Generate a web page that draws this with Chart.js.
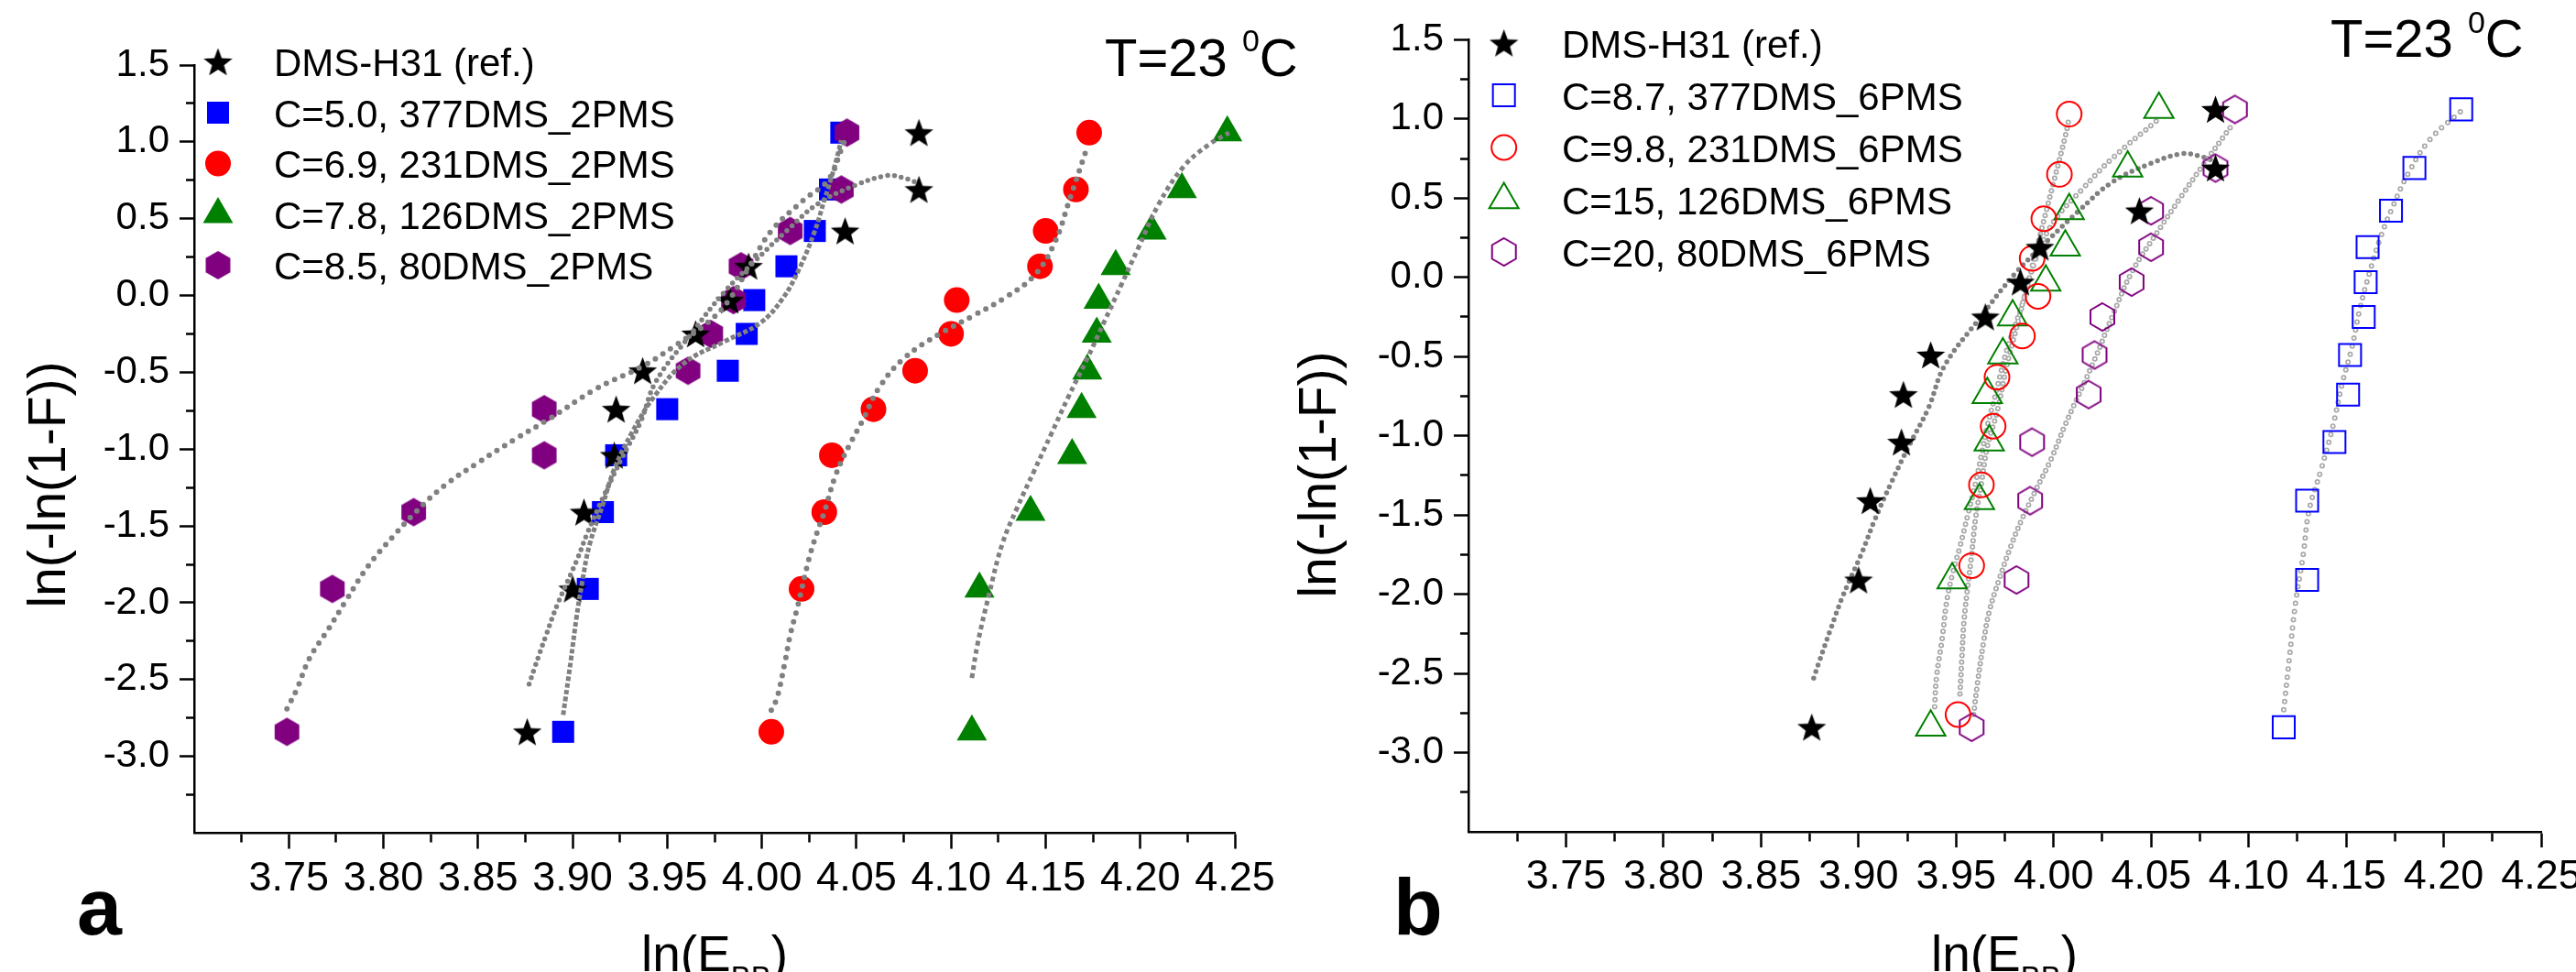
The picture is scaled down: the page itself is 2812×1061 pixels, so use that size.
<!DOCTYPE html>
<html lang="en">
<head>
<meta charset="UTF-8">
<title>Weibull plots, T=23 °C</title>
<script src="https://cdn.jsdelivr.net/npm/chart.js"></script>
<style>
  html, body { margin: 0; padding: 0; background: #fff; overflow: hidden; }
  body { width: 2812px; height: 1061px; position: relative; }
  canvas { position: absolute; top: 0; }
  #chartA { left: 0; }
  #chartB { left: 1400px; }
</style>
</head>
<body>
<canvas id="chartA" width="1420" height="1061"></canvas>
<canvas id="chartB" width="1460" height="1061"></canvas>
<script>
// ---- axis ticks ----
const xMajorTicks = [3.75, 3.80, 3.85, 3.90, 3.95, 4.00, 4.05, 4.10, 4.15, 4.20, 4.25];
const xTickLabels = ['3.75', '3.80', '3.85', '3.90', '3.95', '4.00', '4.05', '4.10', '4.15', '4.20', '4.25'];
const xMinorTicks = [3.725, 3.775, 3.825, 3.875, 3.925, 3.975, 4.025, 4.075, 4.125, 4.175, 4.225];
const yMajorTicks = [-3.0, -2.5, -2.0, -1.5, -1.0, -0.5, 0.0, 0.5, 1.0, 1.5];
const yTickLabels = ['-3.0', '-2.5', '-2.0', '-1.5', '-1.0', '-0.5', '0.0', '0.5', '1.0', '1.5'];
const yMinorTicks = [-3.25, -2.75, -2.25, -1.75, -1.25, -0.75, -0.25, 0.25, 0.75, 1.25];

// ---- series names ----
const labelsA = ['DMS-H31 (ref.)', 'C=5.0, 377DMS_2PMS', 'C=6.9, 231DMS_2PMS', 'C=7.8, 126DMS_2PMS', 'C=8.5, 80DMS_2PMS'];
const labelsB = ['DMS-H31 (ref.)', 'C=8.7, 377DMS_6PMS', 'C=9.8, 231DMS_6PMS', 'C=15, 126DMS_6PMS', 'C=20, 80DMS_6PMS'];

// ---- measured points: ln(-ln(1-F)) ----
const yRank12 = [-2.84, -1.91, -1.41, -1.04, -0.74, -0.49, -0.25, -0.03, 0.19, 0.42, 0.69, 1.06];
const yRank11 = [-2.76, -1.82, -1.31, -0.94, -0.63, -0.37, -0.12, 0.12, 0.37, 0.65, 1.03];

// ln(E_BB) of each sample
const refX = [3.876, 3.900, 3.906, 3.922, 3.923, 3.937, 3.965, 3.983, 3.993, 4.044, 4.083, 4.083];
const sq2X = [3.895, 3.908, 3.916, 3.923, 3.950, 3.982, 3.992, 3.996, 4.013, 4.028, 4.036, 4.042];
const ci2X = [4.005, 4.021, 4.033, 4.037, 4.059, 4.081, 4.100, 4.103, 4.147, 4.150, 4.166, 4.173];
const tr2X = [4.111, 4.115, 4.142, 4.164, 4.169, 4.172, 4.177, 4.178, 4.187, 4.206, 4.222, 4.246];
const hx2X = [3.749, 3.773, 3.816, 3.885, 3.885, 3.961, 3.973, 3.985, 3.989, 4.015, 4.042, 4.045];

const sq6X = [4.118, 4.130, 4.130, 4.144, 4.151, 4.152, 4.159, 4.160, 4.161, 4.173, 4.185, 4.209];
const ci6X = [3.951, 3.958, 3.963, 3.969, 3.971, 3.984, 3.992, 3.989, 3.995, 4.003, 4.008];
const tr6X = [3.937, 3.948, 3.962, 3.967, 3.966, 3.974, 3.979, 3.996, 4.006, 4.008, 4.038, 4.054];
const hx6X = [3.958, 3.981, 3.988, 3.989, 4.018, 4.021, 4.025, 4.040, 4.050, 4.050, 4.083, 4.093];

// ---- fitted curves ----
const refFitX = [3.877, 3.880, 3.886, 3.892, 3.902, 3.908, 3.917, 3.926, 3.936, 3.944, 3.962, 3.980, 3.996, 4.013, 4.030, 4.050, 4.066, 4.075, 4.083];
const refFitY = [-2.53, -2.42, -2.21, -2.01, -1.73, -1.54, -1.29, -1.06, -0.82, -0.56, -0.26, 0.02, 0.22, 0.42, 0.60, 0.72, 0.78, 0.765, 0.73];

const sq2FitX = [3.895, 3.899, 3.902, 3.905, 3.909, 3.916, 3.922, 3.931, 3.943, 3.959, 3.980, 3.999, 4.011, 4.020, 4.028, 4.033, 4.038, 4.042];
const sq2FitY = [-2.73, -2.38, -2.10, -1.87, -1.62, -1.36, -1.13, -0.90, -0.66, -0.44, -0.30, -0.18, -0.02, 0.18, 0.42, 0.62, 0.82, 1.01];

const ci2FitX = [4.005, 4.008, 4.012, 4.015, 4.019, 4.025, 4.029, 4.033, 4.039, 4.046, 4.053, 4.062, 4.075, 4.094, 4.112, 4.129, 4.144, 4.155, 4.162, 4.171];
const ci2FitY = [-2.70, -2.62, -2.40, -2.21, -2.02, -1.71, -1.55, -1.41, -1.17, -0.98, -0.82, -0.60, -0.41, -0.25, -0.13, -0.01, 0.13, 0.35, 0.60, 0.93];

const tr2FitX = [4.111, 4.114, 4.120, 4.127, 4.135, 4.144, 4.153, 4.162, 4.172, 4.181, 4.190, 4.199, 4.210, 4.223, 4.236, 4.247];
const tr2FitY = [-2.49, -2.27, -1.95, -1.62, -1.38, -1.14, -0.90, -0.66, -0.41, -0.17, 0.07, 0.31, 0.60, 0.84, 0.98, 1.06];

const hx2FitX = [3.749, 3.754, 3.761, 3.771, 3.780, 3.792, 3.805, 3.817, 3.832, 3.851, 3.869, 3.888, 3.912, 3.937, 3.955, 3.971, 3.982, 3.993, 4.005, 4.022, 4.035, 4.042, 4.045];
const hx2FitY = [-2.69, -2.57, -2.36, -2.17, -1.99, -1.76, -1.57, -1.41, -1.24, -1.08, -0.94, -0.80, -0.61, -0.46, -0.32, -0.18, -0.04, 0.18, 0.42, 0.62, 0.75, 0.95, 1.05];

const sq6FitX = [4.118, 4.121, 4.124, 4.128, 4.131, 4.137, 4.143, 4.148, 4.153, 4.157, 4.162, 4.167, 4.173, 4.182, 4.193, 4.209];
const sq6FitY = [-2.73, -2.39, -2.06, -1.75, -1.47, -1.22, -0.95, -0.67, -0.44, -0.20, 0.03, 0.23, 0.42, 0.66, 0.87, 1.05];

const ci6FitX = [3.952, 3.953, 3.954, 3.956, 3.958, 3.960, 3.963, 3.966, 3.971, 3.976, 3.982, 3.988, 3.994, 4.000, 4.006, 4.008];
const ci6FitY = [-2.63, -2.40, -2.18, -1.95, -1.75, -1.52, -1.30, -1.07, -0.85, -0.56, -0.27, 0.02, 0.31, 0.60, 0.89, 1.01];

const tr6FitX = [3.939, 3.940, 3.943, 3.945, 3.948, 3.952, 3.956, 3.960, 3.963, 3.966, 3.970, 3.976, 3.984, 3.991, 4.000, 4.015, 4.030, 4.054];
const tr6FitY = [-2.71, -2.52, -2.27, -2.06, -1.88, -1.70, -1.50, -1.30, -1.12, -0.94, -0.75, -0.46, -0.17, 0.12, 0.35, 0.56, 0.75, 1.00];

const hx6FitX = [3.959, 3.961, 3.964, 3.967, 3.972, 3.978, 3.984, 3.991, 3.999, 4.006, 4.021, 4.030, 4.040, 4.054, 4.066, 4.075, 4.092];
const hx6FitY = [-2.76, -2.56, -2.31, -2.11, -1.91, -1.70, -1.52, -1.34, -1.14, -0.93, -0.52, -0.25, 0.03, 0.30, 0.52, 0.68, 0.97];

// ---- look ----
const FONT = "'Liberation Sans', Arial, sans-serif";
const BLUE = '#0000ff', RED = '#ff0000', GREEN = '#008000', PURPLE = '#800080';
const FIT_DARK = '#808080', FIT_LIGHT = '#a8a8a8';
const NONE = 'rgba(0,0,0,0)';

function pts(xs, ys) {
  return xs.map((x, i) => ({ x: x, y: ys[i] }));
}

function starCanvas(color, R) {
  const s = Math.ceil(2 * R + 4);
  const c = document.createElement('canvas');
  c.width = s; c.height = s;
  const g = c.getContext('2d');
  g.fillStyle = color;
  g.beginPath();
  for (let i = 0; i < 10; i++) {
    const r = i % 2 ? R * 0.42 : R;
    const a = -Math.PI / 2 + i * Math.PI / 5;
    g.lineTo(s / 2 + r * Math.cos(a), s / 2 + 1.5 + r * Math.sin(a));
  }
  g.closePath();
  g.fill();
  return c;
}

function hexCanvas(color, R, filled, lw) {
  const w = Math.ceil(Math.sqrt(3) * R + lw + 4), h = Math.ceil(2 * R + lw + 4);
  const c = document.createElement('canvas');
  c.width = w; c.height = h;
  const g = c.getContext('2d');
  g.beginPath();
  for (let k = 0; k < 6; k++) {
    const a = -Math.PI / 2 + k * Math.PI / 3;
    g.lineTo(w / 2 + R * Math.cos(a), h / 2 + R * Math.sin(a));
  }
  g.closePath();
  if (filled) { g.fillStyle = color; g.fill(); }
  else { g.strokeStyle = color; g.lineWidth = lw; g.stroke(); }
  return c;
}

const starBlack = starCanvas('#000', 16.5);
const hexFilled = hexCanvas(PURPLE, 15.5, true, 0);
const hexOpen = hexCanvas(PURPLE, 15, false, 2);

// marker specs (legend + data)
const markA = [
  { style: starBlack, r: 16, fill: '#000', stroke: '#000', bw: 0 },
  { style: 'rect', r: 17, fill: BLUE, stroke: BLUE, bw: 0 },
  { style: 'circle', r: 14, fill: RED, stroke: RED, bw: 0 },
  { style: 'triangle', r: 19, fill: GREEN, stroke: GREEN, bw: 0 },
  { style: hexFilled, r: 15, fill: PURPLE, stroke: PURPLE, bw: 0 }
];
const markB = [
  { style: starBlack, r: 16, fill: '#000', stroke: '#000', bw: 0 },
  { style: 'rect', r: 17, fill: NONE, stroke: BLUE, bw: 2 },
  { style: 'circle', r: 13.5, fill: NONE, stroke: RED, bw: 2 },
  { style: 'triangle', r: 18.5, fill: NONE, stroke: GREEN, bw: 2 },
  { style: hexOpen, r: 15, fill: NONE, stroke: PURPLE, bw: 2 }
];

function markDS(xs, ys, m, order) {
  return {
    data: pts(xs, ys), showLine: false, order: order, clip: false,
    pointStyle: m.style, pointRadius: m.r, pointHoverRadius: m.r,
    pointBackgroundColor: m.fill, pointBorderColor: m.stroke, pointBorderWidth: m.bw
  };
}

function fitDS(xs, ys, color, width, dash, cap, order) {
  return {
    data: pts(xs, ys), showLine: true, pointRadius: 0, pointHoverRadius: 0,
    borderColor: color, borderWidth: width, borderDash: dash, borderCapStyle: cap,
    tension: 0.4, fill: false, order: order
  };
}

function near(list, v) {
  return list.findIndex(m => Math.abs(m - v) < 1e-6);
}

function textPlugin(t) {
  return {
    id: 'panelText',
    afterDraw(chart) {
      const ctx = chart.ctx;
      ctx.save();
      ctx.fillStyle = '#000';
      ctx.textAlign = 'left';
      ctx.textBaseline = 'alphabetic';

      // legend
      t.legend.forEach((label, i) => {
        const m = t.marks[i];
        const y = t.legendY + i * t.legendStep;
        ctx.save();
        ctx.fillStyle = m.fill; ctx.strokeStyle = m.stroke; ctx.lineWidth = m.bw;
        Chart.helpers.drawPoint(ctx, { pointStyle: m.style, radius: m.r, borderWidth: m.bw, rotation: 0 }, t.legendX, y);
        ctx.restore();
        ctx.font = '42px ' + FONT;
        ctx.fillText(label, t.textX, y + t.baseOff);
      });

      // y axis title
      ctx.save();
      ctx.translate(t.yTitle[0], t.yTitle[1]);
      ctx.rotate(-Math.PI / 2);
      ctx.textAlign = 'center';
      ctx.font = '57px ' + FONT;
      ctx.fillText('ln(-ln(1-F))', 0, 0);
      ctx.restore();

      // x axis title ln(E_BB)
      ctx.font = '55px ' + FONT;
      const w1 = ctx.measureText('ln(E').width;
      const w3 = ctx.measureText(')').width;
      ctx.font = '33px ' + FONT;
      const w2 = ctx.measureText('BB').width;
      let x = t.xTitle[0] - (w1 + w2 + w3) / 2;
      ctx.font = '55px ' + FONT;
      ctx.fillText('ln(E', x, t.xTitle[1]);
      ctx.font = '33px ' + FONT;
      ctx.fillText('BB', x + w1, t.xTitle[1] + 18);
      ctx.font = '55px ' + FONT;
      ctx.fillText(')', x + w1 + w2, t.xTitle[1]);

      // panel letter
      ctx.font = 'bold 88px ' + FONT;
      ctx.fillText(t.letter, t.letterPos[0], t.letterPos[1]);

      // temperature note
      x = t.temp[0];
      ctx.font = '58px ' + FONT;
      ctx.fillText('T=23 ', x, t.temp[1]);
      x += ctx.measureText('T=23 ').width;
      ctx.font = '34px ' + FONT;
      ctx.fillText('0', x, t.temp[1] - 26.5);
      x += ctx.measureText('0').width;
      ctx.font = '58px ' + FONT;
      ctx.fillText('C', x, t.temp[1]);

      ctx.restore();
    }
  };
}

function makeChart(id, p) {
  return new Chart(document.getElementById(id), {
    type: 'scatter',
    data: { datasets: p.datasets },
    options: {
      responsive: false,
      animation: false,
      events: [],
      layout: { padding: p.padding },
      plugins: { legend: { display: false }, tooltip: { enabled: false } },
      scales: {
        x: {
          type: 'linear', position: 'bottom', min: 3.70, max: 4.25,
          afterBuildTicks: s => {
            s.ticks = xMajorTicks.concat(xMinorTicks).sort((a, b) => a - b).map(v => ({ value: v }));
          },
          afterFit: s => { s.height = p.xAxisHeight; },
          ticks: {
            autoSkip: false, maxRotation: 0, minRotation: 0, padding: 6, color: '#000',
            font: { family: FONT, size: 45 },
            callback: v => { const i = near(xMajorTicks, v); return i < 0 ? '' : xTickLabels[i]; }
          },
          grid: {
            drawOnChartArea: false, drawTicks: true, tickLength: 17, tickWidth: 2.5, tickColor: '#000',
            tickBorderDash: c => (c.tick && near(xMajorTicks, c.tick.value) < 0) ? [9, 100] : []
          },
          border: { display: true, color: '#000', width: 2.5 }
        },
        y: {
          type: 'linear', position: 'left', min: -3.5, max: 1.5,
          afterBuildTicks: s => {
            s.ticks = yMajorTicks.concat(yMinorTicks).sort((a, b) => a - b).map(v => ({ value: v }));
          },
          afterFit: s => { s.width = p.yAxisWidth; },
          ticks: {
            autoSkip: false, padding: 11, color: '#000',
            font: { family: FONT, size: 42 },
            callback: v => { const i = near(yMajorTicks, v); return i < 0 ? '' : yTickLabels[i]; }
          },
          grid: {
            drawOnChartArea: false, drawTicks: true, tickLength: 16, tickWidth: 2.5, tickColor: '#000',
            tickBorderDash: c => (c.tick && near(yMajorTicks, c.tick.value) < 0) ? [0, 7, 8, 100] : []
          },
          border: { display: true, color: '#000', width: 2.5 }
        }
      }
    },
    plugins: [textPlugin(p.text)]
  });
}

// ---- panel a ----
makeChart('chartA', {
  padding: { top: 71, right: 72, bottom: 0, left: 0 },
  yAxisWidth: 212,
  xAxisHeight: 151.5,
  datasets: [
    fitDS(refFitX, refFitY, FIT_DARK, 5.5, [0, 7.5], 'round', 0),
    fitDS(sq2FitX, sq2FitY, FIT_DARK, 5, [5, 2.5], 'butt', 0),
    fitDS(ci2FitX, ci2FitY, FIT_DARK, 6, [0, 10], 'round', 0),
    fitDS(tr2FitX, tr2FitY, FIT_DARK, 5, [5, 4], 'butt', 0),
    fitDS(hx2FitX, hx2FitY, FIT_DARK, 6, [0, 10], 'round', 0),
    markDS(refX, yRank12, markA[0], 1),
    markDS(sq2X, yRank12, markA[1], 5),
    markDS(ci2X, yRank12, markA[2], 4),
    markDS(tr2X, yRank12, markA[3], 3),
    markDS(hx2X, yRank12, markA[4], 2)
  ],
  text: {
    legend: labelsA, marks: markA,
    legendX: 238, legendY: 67.5, legendStep: 55.5, textX: 299, baseOff: 15.5,
    yTitle: [70.7, 529], xTitle: [780, 1060],
    letter: 'a', letterPos: [84, 1020],
    temp: [1206, 82.7]
  }
});

// ---- panel b ----
makeChart('chartB', {
  padding: { top: 43.3, right: 86, bottom: 0, left: 0 },
  yAxisWidth: 203,
  xAxisHeight: 153,
  datasets: [
    markDS(refX, yRank12, markB[0], 0),
    markDS(sq6X, yRank12, markB[1], 1),
    markDS(ci6X, yRank11, markB[2], 1),
    markDS(tr6X, yRank12, markB[3], 1),
    markDS(hx6X, yRank12, markB[4], 1),
    fitDS(refFitX, refFitY, FIT_DARK, 5.5, [0, 7.5], 'round', 4),
    fitDS(sq6FitX, sq6FitY, FIT_LIGHT, 6, [0, 9], 'round', 3),
    fitDS(ci6FitX, ci6FitY, FIT_LIGHT, 6, [0, 7], 'round', 3),
    fitDS(tr6FitX, tr6FitY, FIT_LIGHT, 6, [0, 7.5], 'round', 3),
    fitDS(hx6FitX, hx6FitY, FIT_LIGHT, 6, [0, 7], 'round', 3),
    fitDS(sq6FitX, sq6FitY, '#fff', 2.6, [0, 9], 'round', 2),
    fitDS(ci6FitX, ci6FitY, '#fff', 2.6, [0, 7], 'round', 2),
    fitDS(tr6FitX, tr6FitY, '#fff', 2.6, [0, 7.5], 'round', 2),
    fitDS(hx6FitX, hx6FitY, '#fff', 2.6, [0, 7], 'round', 2)
  ],
  text: {
    legend: labelsB, marks: markB,
    legendX: 241.7, legendY: 47, legendStep: 57, textX: 305, baseOff: 16,
    yTitle: [58, 518], xTitle: [788, 1060],
    letter: 'b', letterPos: [121, 1020],
    temp: [1144, 62.2]
  }
});
</script>
</body>
</html>
